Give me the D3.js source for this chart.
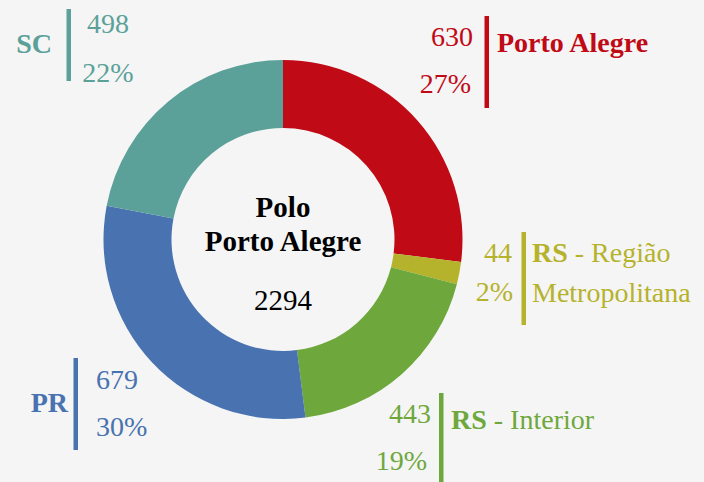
<!DOCTYPE html>
<html>
<head>
<meta charset="utf-8">
<script src="https://cdn.jsdelivr.net/npm/d3@7"></script>
<style>
  html, body { margin: 0; padding: 0; background: #f5f5f5; }
</style>
</head>
<body>
<div id="chart"></div>
<script>
// data
var regions = ["Porto Alegre", "RS - Região Metropolitana", "RS - Interior", "PR", "SC"];
var counts = [630, 44, 443, 679, 498];
// the slices follow the rounded shares printed next to them
var shares = [27, 2, 19, 30, 22];
var colors = ["#c00a16", "#b5b22b", "#6ea83c", "#4872b0", "#5ba199"];
var centerTitle = ["Polo", "Porto Alegre"];

// label placement (bar x, bar top/bottom, text positions)
var labelLayout = [
    {bx: 486.5, y0: 16, y1: 108, vx: 473, vy: 46, va: "end", px: 471, py: 93, pa: "end",
     name: [[{t: "Porto Alegre", b: true}]], nx: 497, ny: 52, na: "start"},
    {bx: 523.5, y0: 232, y1: 325, vx: 512, vy: 262, va: "end", px: 513, py: 301, pa: "end",
     name: [[{t: "RS", b: true}, {t: " - Região", b: false}], [{t: "Metropolitana", b: false}]], nx: 532, ny: 262, na: "start"},
    {bx: 441, y0: 393, y1: 485, vx: 431, vy: 423, va: "end", px: 427, py: 470, pa: "end",
     name: [[{t: "RS", b: true}, {t: " - Interior", b: false}]], nx: 451, ny: 429, na: "start"},
    {bx: 75.5, y0: 358, y1: 450, vx: 96, vy: 389, va: "start", px: 96, py: 436, pa: "start",
     name: [[{t: "PR", b: true}]], nx: 68, ny: 412, na: "end"},
    {bx: 68.5, y0: 9, y1: 81, vx: 108, vy: 33, va: "middle", px: 108, py: 82, pa: "middle",
     name: [[{t: "SC", b: true}]], nx: 52, ny: 53, na: "end"}
];

var width = 704, height = 482;
var cx = 283, cy = 239.5;
var outerR = 179.5, innerR = 111.5;
var serif = "'Liberation Serif'";

var svg = d3.select("#chart")
    .append("svg")
    .attr("width", width)
    .attr("height", height)
    .style("display", "block");

svg.append("rect")
    .attr("width", width)
    .attr("height", height)
    .attr("fill", "#f5f5f5");

var total = d3.sum(counts);

var pie = d3.pie().sort(null).value(function(d) { return d; });
var arc = d3.arc().innerRadius(innerR).outerRadius(outerR);

var donut = svg.append("g")
    .attr("transform", `translate(${cx}, ${cy})`);

donut.selectAll("path")
    .data(pie(shares))
    .enter()
    .append("path")
    .attr("d", arc)
    .attr("fill", function(d, i) { return colors[i]; });

// center text
donut.append("text")
    .attr("text-anchor", "middle")
    .attr("y", -23)
    .style("font-family", serif)
    .attr("font-size", 29)
    .style("font-weight", "bold")
    .text(centerTitle[0]);

donut.append("text")
    .attr("text-anchor", "middle")
    .attr("y", 11)
    .style("font-family", serif)
    .attr("font-size", 29)
    .style("font-weight", "bold")
    .text(centerTitle[1]);

donut.append("text")
    .attr("text-anchor", "middle")
    .attr("y", 70)
    .style("font-family", serif)
    .attr("font-size", 29)
    .text(total);

// labels
var labels = svg.selectAll("g.lbl")
    .data(regions)
    .enter()
    .append("g")
    .attr("class", "lbl")
    .attr("fill", function(d, i) { return colors[i]; });

labels.each(function(d, i) {
    var g = d3.select(this);
    var L = labelLayout[i];

    g.append("rect")
        .attr("x", L.bx - 2)
        .attr("y", L.y0)
        .attr("width", 4.5)
        .attr("height", L.y1 - L.y0);

    g.append("text")
        .attr("x", L.vx)
        .attr("y", L.vy)
        .attr("text-anchor", L.va)
        .style("font-family", serif)
        .attr("font-size", 28)
        .text(counts[i]);

    g.append("text")
        .attr("x", L.px)
        .attr("y", L.py)
        .attr("text-anchor", L.pa)
        .style("font-family", serif)
        .attr("font-size", 28)
        .text(shares[i] + "%");

    L.name.forEach(function(line, li) {
        var t = g.append("text")
            .attr("x", L.nx)
            .attr("y", L.ny + li * 40)
            .attr("text-anchor", L.na)
            .style("font-family", serif)
            .attr("font-size", 28);
        line.forEach(function(part) {
            t.append("tspan")
                .style("font-weight", part.b ? "bold" : "normal")
                .text(part.t);
        });
    });
});
</script>
</body>
</html>
